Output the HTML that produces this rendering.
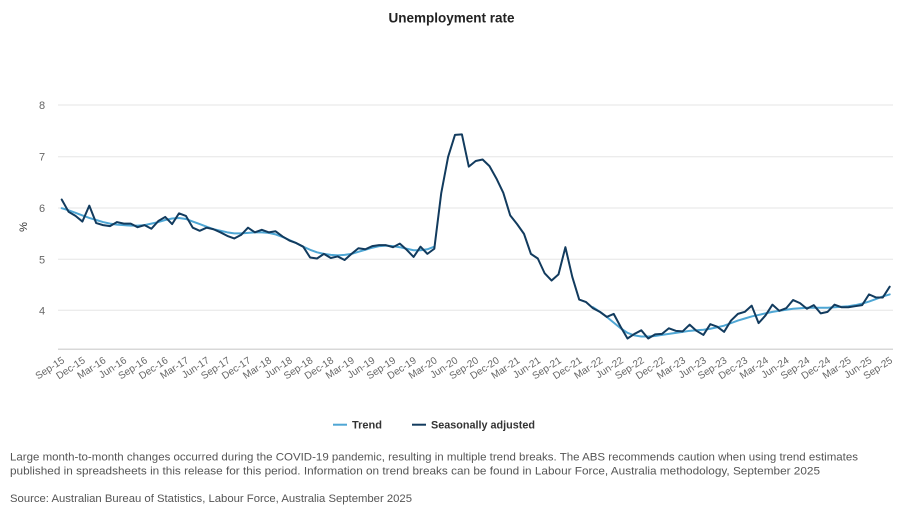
<!DOCTYPE html>
<html>
<head>
<meta charset="utf-8">
<style>
html,body{margin:0;padding:0;background:#fff;}
svg{display:block;}
text{font-family:"Liberation Sans",Arial,sans-serif;}
</style>
</head>
<body>
<svg width="903" height="520" viewBox="0 0 903 520" xmlns="http://www.w3.org/2000/svg">
<rect width="903" height="520" fill="#fff"/>
<!-- Title -->
<text x="451.5" y="22.5" text-anchor="middle" font-size="13.5" font-weight="bold" fill="#222">Unemployment rate</text>

<!-- Gridlines -->
<g stroke="#e6e6e6" stroke-width="1">
<line x1="58" y1="105" x2="893" y2="105"/>
<line x1="58" y1="156.7" x2="893" y2="156.7"/>
<line x1="58" y1="208" x2="893" y2="208"/>
<line x1="58" y1="259.3" x2="893" y2="259.3"/>
<line x1="58" y1="310.3" x2="893" y2="310.3"/>
</g>
<line x1="58" y1="349.3" x2="893" y2="349.3" stroke="#d8d8d8" stroke-width="1.5"/>

<!-- Y labels -->
<g font-size="11" fill="#666" text-anchor="middle">
<text x="42" y="109">8</text>
<text x="42" y="160.7">7</text>
<text x="42" y="212">6</text>
<text x="42" y="263.3">5</text>
<text x="42" y="314.3">4</text>
</g>
<text transform="translate(27,227) rotate(-90)" font-size="11" fill="#333" text-anchor="middle">%</text>

<!-- Series -->
<g transform="translate(61.7,515.5) scale(6.9,-51.3)" fill="none" stroke-linejoin="round" stroke-linecap="round">
<polyline vector-effect="non-scaling-stroke" stroke="#4ea6d4" stroke-width="2" points="0,5.99 1,5.95 2,5.90 3,5.85 4,5.80 5,5.76 6,5.72 7,5.69 8,5.67 9,5.66 10,5.65 11,5.65 12,5.66 13,5.69 14,5.72 15,5.76 16,5.79 17,5.80 18,5.78 19,5.73 20,5.68 21,5.63 22,5.58 23,5.55 24,5.52 25,5.50 26,5.50 27,5.51 28,5.52 29,5.52 30,5.51 31,5.48 32,5.43 33,5.37 34,5.31 35,5.24 36,5.18 37,5.13 38,5.10 39,5.08 40,5.07 41,5.08 42,5.10 43,5.14 44,5.18 45,5.22 46,5.25 47,5.26 48,5.25 49,5.23 50,5.20 51,5.17 52,5.17 53,5.19 54,5.24"/>
<polyline vector-effect="non-scaling-stroke" stroke="#4ea6d4" stroke-width="2" points="77,4.06 78,3.97 79,3.87 80,3.76 81,3.65 82,3.56 83,3.51 84,3.49 85,3.49 86,3.50 87,3.52 88,3.54 89,3.56 90,3.58 91,3.60 92,3.61 93,3.62 94,3.64 95,3.67 96,3.70 97,3.75 98,3.80 99,3.84 100,3.88 101,3.91 102,3.94 103,3.97 104,3.99 105,4.01 106,4.03 107,4.04 108,4.05 109,4.05 110,4.05 111,4.05 112,4.06 113,4.07 114,4.08 115,4.10 116,4.13 117,4.17 118,4.22 119,4.27 120,4.31"/>
<polyline vector-effect="non-scaling-stroke" stroke="#123b5e" stroke-width="2" points="0,6.16 1,5.92 2,5.84 3,5.73 4,6.04 5,5.70 6,5.66 7,5.64 8,5.72 9,5.69 10,5.69 11,5.62 12,5.66 13,5.59 14,5.74 15,5.82 16,5.68 17,5.89 18,5.84 19,5.61 20,5.55 21,5.61 22,5.58 23,5.52 24,5.45 25,5.40 26,5.47 27,5.61 28,5.52 29,5.57 30,5.52 31,5.54 32,5.44 33,5.36 34,5.31 35,5.24 36,5.03 37,5.01 38,5.10 39,5.02 40,5.05 41,4.98 42,5.10 43,5.21 44,5.19 45,5.25 46,5.27 47,5.27 48,5.23 49,5.30 50,5.18 51,5.04 52,5.24 53,5.10 54,5.20 55,6.28 56,6.99 57,7.42 58,7.43 59,6.80 60,6.91 61,6.94 62,6.81 63,6.57 64,6.29 65,5.85 66,5.68 67,5.49 68,5.10 69,5.01 70,4.72 71,4.58 72,4.70 73,5.23 74,4.65 75,4.21 76,4.16 77,4.04 78,3.97 79,3.87 80,3.93 81,3.68 82,3.45 83,3.54 84,3.61 85,3.45 86,3.53 87,3.54 88,3.65 89,3.60 90,3.59 91,3.72 92,3.60 93,3.52 94,3.73 95,3.68 96,3.58 97,3.80 98,3.93 99,3.97 100,4.09 101,3.75 102,3.90 103,4.11 104,3.99 105,4.04 106,4.20 107,4.14 108,4.03 109,4.10 110,3.94 111,3.97 112,4.11 113,4.06 114,4.06 115,4.08 116,4.10 117,4.31 118,4.25 119,4.25 120,4.46"/>
</g>

<!-- X labels -->
<g font-size="10" fill="#666" text-anchor="end">
<text transform="translate(65.2,362) rotate(-33)">Sep-15</text>
<text transform="translate(85.9,362) rotate(-33)">Dec-15</text>
<text transform="translate(106.6,362) rotate(-33)">Mar-16</text>
<text transform="translate(127.3,362) rotate(-33)">Jun-16</text>
<text transform="translate(148.0,362) rotate(-33)">Sep-16</text>
<text transform="translate(168.7,362) rotate(-33)">Dec-16</text>
<text transform="translate(189.4,362) rotate(-33)">Mar-17</text>
<text transform="translate(210.1,362) rotate(-33)">Jun-17</text>
<text transform="translate(230.8,362) rotate(-33)">Sep-17</text>
<text transform="translate(251.5,362) rotate(-33)">Dec-17</text>
<text transform="translate(272.2,362) rotate(-33)">Mar-18</text>
<text transform="translate(292.9,362) rotate(-33)">Jun-18</text>
<text transform="translate(313.6,362) rotate(-33)">Sep-18</text>
<text transform="translate(334.3,362) rotate(-33)">Dec-18</text>
<text transform="translate(355.0,362) rotate(-33)">Mar-19</text>
<text transform="translate(375.7,362) rotate(-33)">Jun-19</text>
<text transform="translate(396.4,362) rotate(-33)">Sep-19</text>
<text transform="translate(417.1,362) rotate(-33)">Dec-19</text>
<text transform="translate(437.8,362) rotate(-33)">Mar-20</text>
<text transform="translate(458.5,362) rotate(-33)">Jun-20</text>
<text transform="translate(479.2,362) rotate(-33)">Sep-20</text>
<text transform="translate(499.9,362) rotate(-33)">Dec-20</text>
<text transform="translate(520.6,362) rotate(-33)">Mar-21</text>
<text transform="translate(541.3,362) rotate(-33)">Jun-21</text>
<text transform="translate(562.0,362) rotate(-33)">Sep-21</text>
<text transform="translate(582.7,362) rotate(-33)">Dec-21</text>
<text transform="translate(603.4,362) rotate(-33)">Mar-22</text>
<text transform="translate(624.1,362) rotate(-33)">Jun-22</text>
<text transform="translate(644.8,362) rotate(-33)">Sep-22</text>
<text transform="translate(665.5,362) rotate(-33)">Dec-22</text>
<text transform="translate(686.2,362) rotate(-33)">Mar-23</text>
<text transform="translate(706.9,362) rotate(-33)">Jun-23</text>
<text transform="translate(727.6,362) rotate(-33)">Sep-23</text>
<text transform="translate(748.3,362) rotate(-33)">Dec-23</text>
<text transform="translate(769.0,362) rotate(-33)">Mar-24</text>
<text transform="translate(789.7,362) rotate(-33)">Jun-24</text>
<text transform="translate(810.4,362) rotate(-33)">Sep-24</text>
<text transform="translate(831.1,362) rotate(-33)">Dec-24</text>
<text transform="translate(851.8,362) rotate(-33)">Mar-25</text>
<text transform="translate(872.5,362) rotate(-33)">Jun-25</text>
<text transform="translate(893.2,362) rotate(-33)">Sep-25</text>
</g>

<!-- Legend -->
<line x1="333" y1="424.7" x2="347" y2="424.7" stroke="#4ea6d4" stroke-width="2"/>
<text x="352" y="428.6" font-size="11" font-weight="bold" fill="#333" textLength="30" lengthAdjust="spacingAndGlyphs">Trend</text>
<line x1="412" y1="424.7" x2="426" y2="424.7" stroke="#123b5e" stroke-width="2"/>
<text x="431" y="428.6" font-size="11" font-weight="bold" fill="#333" textLength="104" lengthAdjust="spacingAndGlyphs">Seasonally adjusted</text>

<!-- Footnotes -->
<g font-size="11" fill="#555">
<text x="10" y="460.5" textLength="848" lengthAdjust="spacingAndGlyphs">Large month-to-month changes occurred during the COVID-19 pandemic, resulting in multiple trend breaks. The ABS recommends caution when using trend estimates</text>
<text x="10" y="474.5" textLength="810" lengthAdjust="spacingAndGlyphs">published in spreadsheets in this release for this period. Information on trend breaks can be found in Labour Force, Australia methodology, September 2025</text>
<text x="10" y="502" textLength="402" lengthAdjust="spacingAndGlyphs">Source: Australian Bureau of Statistics, Labour Force, Australia September 2025</text>
</g>
</svg>
</body>
</html>
